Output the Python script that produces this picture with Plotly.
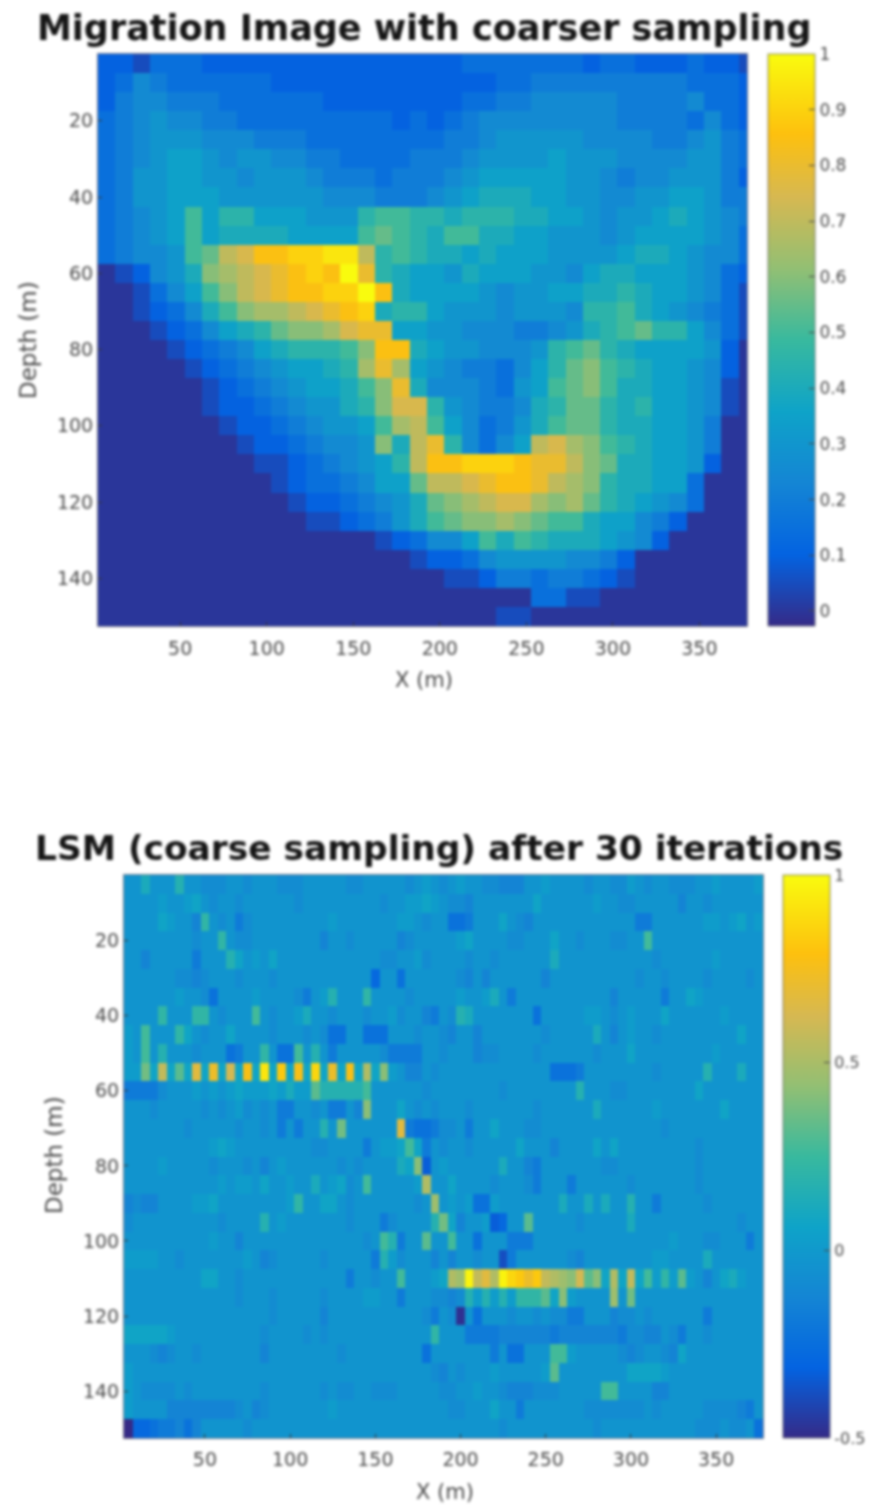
import plotly.graph_objects as go

W, H = 878, 1507

# Migration image: one letter per cell, a=0, b=0.05 ... u=1 (10 m x 5 m cells)
mig_rows = [
    "ccbdddcccc cccccccccc cdddddddcd dcccdccb",
    "cdfedddddd cccccccccc cccddeeeee eeeedddc",
    "ceffeeeddd dddccccccc cddeefffff eeeefddc",
    "defgffeedd dddddddcdc deffffffff eeeedfdc",
    "defgggfffe eedddddddd eefgggggff ffeefged",
    "defghhgfgg ffeeddddee efgggghggg ffffgged",
    "degghhggfg ggfeeedeee fghhhhhggf effgggec",
    "degghhhggg gggfffeeef ghiiihhggf fgghhgee",
    "defghkhjjh hhgggjkkjj ijjjiihhgf gghihgfe",
    "defghkhiii ihhhhklkji kkiihhgggf ghhhhgfd",
    "deffgklopr rssttojkji ihihhhgggg hiihgffd",
    "abcfgimnop qrsruqjihh gihhhggfhi ihhhgfdc",
    "aabdfhkmop qrrssurihh hhgfgghhii jihhgfdb",
    "aabcdfikmn nopqrsijjh gggfgggfjj kihgfedb",
    "aaabcdfhij lmmnpqqhhg gfffeefgij kljjhfdb",
    "aaaabcdefh ijjjkmrrih ggfffgjklj ihhhhgca",
    "aaaaabcdef ghhijnqnhg feedfhjlmk jihhgfca",
    "aaaaaabcde fghhikmqif ffedghklmk iihhgfba",
    "aaaaaabccd efggijmppj gfeefijllj ijhhgfba",
    "aaaaaaabcc defgghknok hfdegikllj iihhgeaa",
    "aaaaaaaabc cdeffgmioq jfdfhopnmk jihhgeaa",
    "aaaaaaaaab bcdefghjor rsssrqqoml iihhgcaa",
    "aaaaaaaaaa bcddefhhlo opqrrqonmj iihhdaaa",
    "aaaaaaaaaa abccdefgil mnoppnmnlj ihgfdaaa",
    "aaaaaaaaaa aabbcdegik lmmnmlkkih hfecaaaa",
    "aaaaaaaaaa aaaaaabcdf fhkikjiiih gfcaaaaa",
    "aaaaaaaaaa aaaaaaaabc cdfggggffe caaaaaaa",
    "aaaaaaaaaa aaaaaaaaaa bbceedeedc baaaaaaa",
    "aaaaaaaaaa aaaaaaaaaa aaaaaddbba aaaaaaaa",
    "aaaaaaaaaa aaaaaaaaaa aaabbaaaaa aaaaaaaa",
]

# LSM image: one letter per cell, a=-0.53, k=-0.03, u=0.47, E=0.97 (5 m x 5 m cells)
lsm_rows = [
    "kknkk kokkj jjkkj kkkjj jkkkk kjjkk kkkjk lkjkl kkjji iikkl kkkkj kkjjl kjkkj jjkkl kkkkl",
    "kkkkl kklmk jkkjk kkkkk jkkkk kkkkk jkkll mlkjj ikkkk kkkmk kkkkk lkkjj kkkkk ikkjk kkkkk",
    "kkkkm lkkip kjkhj kkkkk kkkkl kkkkk kkllk jkkgg hkkkm kjikk kkkkk kkkkk hhkkk kkkll klmkl",
    "kkkkk kkkjk kpkjj kkkkk kkkik kjkkk kkijk kkkkl mkkkk jjkkk mkkjk kkjjk kqkkk kkkkk kkkkk",
    "kkikk kkkhk kkomk lkmkk kkkkk kkkkk jjkkl jkkkk jkkjk kkkkk nkkkk kkkkk kkjkk kkkkl kkkkk",
    "kkkkk kjjij kkkjk kkjkk kkkkk kkkkf kkgkk kkkkj ikikk kkkki kkkkk kkkkk jkkjk kkkjk kkkjk",
    "kkkkk klkkj gkkkk lkkkk jhklo kkkpk kkkjk kkkkl kklnk hkkkk kkkkk kkikk kkkhk kmlkk kkkkk",
    "kkkkp kkkpp kjkkk qkjkk lnkkj kkkjk kljkk ihkjo nkkkk kkkgk kkkkl lkjkl kkkmk kkkkk lkkkk",
    "lkqkk kpmkj kkmkk kkjkk kjkjg gkkgg gkkkj kkjik kikkk kkkkj kkkkk nkikl kkjkk kkkkk kkmkk",
    "lkqko kkkjk kkghk kpkgg qkokh kkkkk jhhhh kkjkk kijjk kkkjk kkkkk jkkkm kkkkk kkkkl kkkkk",
    "llsmw mrmym zmxmA mDmBm AmCmz mAmvm tlkii kjkkk kkkkk kkkkk ggghk kkkkk kkjkk kkkok kknkk",
    "hhhhj kkklk lklml llmln llroo oooqk kkkkk jkkkk kkkkj kkkkk kkkok kkjjk kkkkk kkmkk kkkkk",
    "kkkjk kkkkj kjklj kjkhh kkjkh hkitk kkmkj kjkkk jkkkk kkkjk kkkkk nkkkk kklkk kkkkk mkkkk",
    "kkkkk kkjkk kkkjk kjkhk hkkok skkkk kkyhg ghjjk hkkmk kkjjk kkkkk kkkkk kkkjk kkkkk kkkkk",
    "kkkkk kkkkk lmlkk kkkkk kkjjk kkkhk llmqm hkjkk jkkkk kmkkk ikkkk mkmkk kkkkk kkjkk kkkkk",
    "kkkkl kkkkk jkkkj kiklk kkkkk jkjkk kknmt eklkk kkkkn kkihk kkkkk kjjkk kkkkk kkjkk kkkkk",
    "kkkkk kkkkk klkll kmkkl kknkl mjkqk kkkkl vkkmk kkkjk kkjhk kkhkk kkkkj kkkkk kkjkk kkkkk",
    "ijiik kkkll mkkkk kkkkl pkkmm kjkkk kkkkj kuklk lgglk kkkkk knkkn knkko kkhkk kkkjk kkkkk",
    "jkkkk kkkkk kjkkk koklk kkkkk kjkkk hjkkk kosmi kklef kkrkk kkkjk kkkkn kkkkk kkkkk kkjkk",
    "kkkkk kkkkk lkkik kkkkk kkkkk kkkjk qohkk rkkqk kgkkk hhhkk kkkkk kkkkk kkkkl kkkjj kkkhk",
    "llllk kjkkk kkkkl kijkk kkkjk kkkkh oljkk kikik kjkkd hkkkk kkjik kkkkk kkllk kkknk kkkkk",
    "kkkkk kkkkm mkkjk kkkkk kkkkk khkkj kkqkk klmvu EwyvE CBzBw vutxr tmvmw mqlpl rlkik mnlkk",
    "kkkkk kkkkk kkkjk kkjkk kkkjk kkkll kkhkk kjjij ololo lpppr mtlkk kkuks kkkkk kkkkk kkkkk",
    "kkkkk kkkkk kkkkk kkjkk kkkik kkkkk kkkkk jhkjb kgkkk jkkjk jjhhk kkijj kjkkk kkkhk kkkkk",
    "mmmmm lkkkk kkkkk kjkkk kjkjk kkkkk kkkkk kpkkk hhhhi iiiii hiiii iiihj jiikj hkkjk kkkkk",
    "kkkji jkkjk kkkkk kikkk kkkkk jkkkk kkkkk gkkkk kkkhk ggkkk qqlkk kkkji jkkji mkkkk kkkkk",
    "lkkkk kkkkk kkkkk kkkkk kkkkk kkkkk kkkkk kjikj kkklk kkkkl rkkkk kkkkm mmmlk kkkkk kkkkk",
    "lkjjj jkjkk kkkkk kjkkk kkkjk jjkkj jjkkk kkjjk klkkj iiijj jkkkk kqqkk kkiik kkkkk kkkkk",
    "lkkkk iiiii iiijk ijkkk kkkkl kkkkk kkkkk kkkjj kkkmk khkkk kkkkj jjjjj jkjkk kkkjj jjihk",
    "affgh higik kkkkj kkkkk kkkkk kkkkk kkkkk kkkkk kkkkj kkkkk kkkkk jkkkk kkkkk kkjjj kjjkg",
]

mig_levels = "abcdefghijklmnopqrstu"
lsm_levels = "abcdefghijklmnopqrstuvwxyzABCDE"
x_ticks = [50, 100, 150, 200, 250, 300, 350]
y_ticks = [20, 40, 60, 80, 100, 120, 140]
mig_cbar_ticks = [0, 0.1, 0.2, 0.3, 0.4, 0.5, 0.6, 0.7, 0.8, 0.9, 1]
mig_cbar_labels = ["0", "0.1", "0.2", "0.3", "0.4", "0.5", "0.6", "0.7", "0.8", "0.9", "1"]
lsm_cbar_ticks = [-0.5, 0, 0.5, 1]
lsm_cbar_labels = ["-0.5", "0", "0.5", "1"]

mig_title = "Migration Image with coarser sampling"
lsm_title = "LSM (coarse sampling) after 30 iterations"

parula = [
    [0.0, "#352a87"], [0.125, "#0363e1"], [0.25, "#1485d4"], [0.375, "#0ea3c8"],
    [0.5, "#38b99e"], [0.625, "#92bf73"], [0.75, "#d6b851"], [0.86, "#fdc00e"], [1.0, "#f9fb0e"],
]


def decode(rows, levels, low, n):
    out = []
    for r in rows:
        r = r.replace(" ", "")
        assert len(r) == n, (r, len(r))
        out.append([low + 0.05 * levels.index(c) for c in r])
    return out


mig_z = decode(mig_rows, mig_levels, 0.0, 38)
lsm_z = decode(lsm_rows, lsm_levels, -0.53, 75)

TICK = "#4a4a4a"
LINE = "rgba(70,70,90,0.7)"
FONT = "DejaVu Sans"


def cbar(left, top, bottom, vals, text, size):
    return dict(
        x=left / W, xanchor="left", xpad=0, thickness=47, thicknessmode="pixels",
        y=1 - top / H, yanchor="top", ypad=0, len=(bottom - top) / H, lenmode="fraction",
        tickmode="array", tickvals=vals, ticktext=text, ticks="inside", ticklen=6,
        tickcolor="#444", outlinecolor="rgba(90,90,90,0.7)", outlinewidth=1,
        tickfont=dict(family=FONT, size=size, color=TICK),
    )


fig = go.Figure()
fig.add_trace(go.Heatmap(
    z=mig_z, x0=7.5, dx=10, y0=5, dy=5, colorscale=parula, zmin=-0.027, zmax=1,
    xaxis="x", yaxis="y", zsmooth=False,
    colorbar=cbar(768, 54, 626, mig_cbar_ticks, mig_cbar_labels, 17),
))
fig.add_trace(go.Heatmap(
    z=lsm_z, x0=5, dx=5, y0=5, dy=5, colorscale=parula, zmin=-0.5, zmax=1,
    xaxis="x2", yaxis="y2", zsmooth=False,
    colorbar=cbar(783, 875, 1438, lsm_cbar_ticks, lsm_cbar_labels, 16),
))


def axis(vals, dom, rng, anchor, standoff=0):
    return dict(
        domain=dom, range=rng, anchor=anchor, tickmode="array", tickvals=vals,
        ticks="inside", ticklen=4, tickcolor="#333", showgrid=False, zeroline=False,
        showline=True, linecolor=LINE, linewidth=1, mirror=True, ticklabelstandoff=standoff,
        tickfont=dict(family=FONT, size=19, color=TICK),
    )


fig.update_layout(
    width=W, height=H, margin=dict(l=0, r=0, t=0, b=0, autoexpand=False),
    paper_bgcolor="white", plot_bgcolor="white", showlegend=False,
    xaxis=axis(x_ticks, [98 / W, 747 / W], [2.5, 377.5], "y", 5),
    yaxis=axis(y_ticks, [1 - 626 / H, 1 - 54 / H], [152.5, 2.5], "x"),
    xaxis2=axis(x_ticks, [124 / W, 763 / W], [2.5, 377.5], "y2", 4),
    yaxis2=axis(y_ticks, [1 - 1438 / H, 1 - 875 / H], [152.5, 2.5], "x2"),
)


def label(text, cx, cy, size, color, bold=False, angle=0):
    fig.add_annotation(
        text=f"<b>{text}</b>" if bold else text, x=cx / W, y=1 - cy / H, xref="paper", yref="paper",
        showarrow=False, xanchor="center", yanchor="middle", textangle=angle,
        font=dict(family=FONT, size=size, color=color),
    )


label(mig_title, 424, 28, 35, "#151515", bold=True)
label(lsm_title, 439, 848, 34.4, "#151515", bold=True)
label("X (m)", 424, 680, 21, TICK)
label("X (m)", 445, 1492, 21, TICK)
label("Depth (m)", 28, 340, 23, TICK, angle=-90)
label("Depth (m)", 54, 1155, 23, TICK, angle=-90)

fig.write_html(
    "out.html",
    config={"displayModeBar": False},
    post_script=(
        "document.documentElement.style.background='white';"
        "document.body.style.margin='0';document.body.style.overflow='hidden';"
        "document.body.style.filter='blur(1.4px)';"
    ),
)
